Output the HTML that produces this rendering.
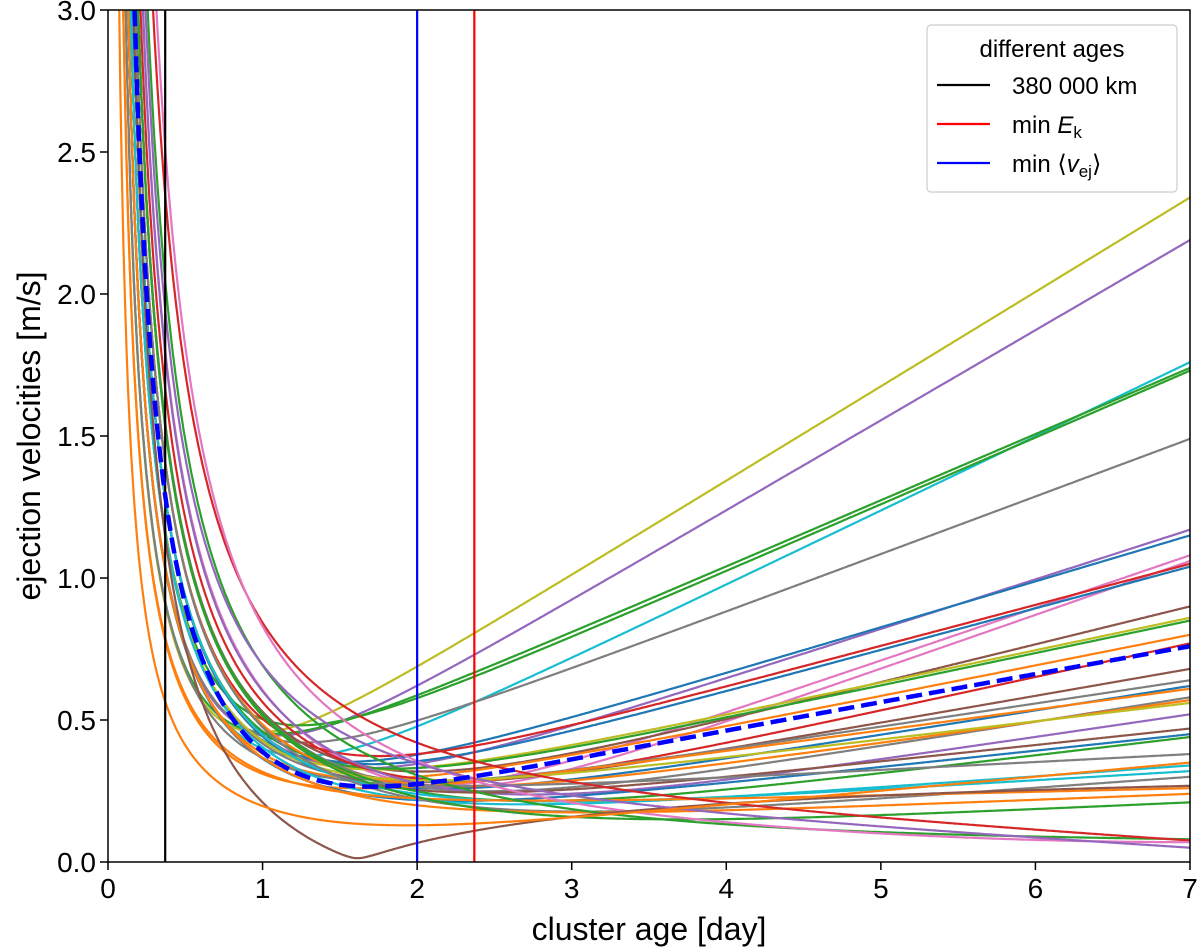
<!DOCTYPE html>
<html><head><meta charset="utf-8"><style>
html,body{margin:0;padding:0;background:#fff;}
svg{display:block;font-family:"Liberation Sans","DejaVu Sans",sans-serif;}
</style></head><body>
<svg id="chart" width="1200" height="950" viewBox="0 0 1200 950">
<defs><clipPath id="plotclip"><rect x="108" y="10" width="1082" height="852"/></clipPath></defs>
<g id="curves" clip-path="url(#plotclip)"></g>
<g id="vlines" clip-path="url(#plotclip)"></g>
<g id="mean" clip-path="url(#plotclip)"></g>
<rect x="108" y="10" width="1082" height="852" fill="none" stroke="#000" stroke-width="1.5"/>
<g id="xticks"></g>
<g id="yticks"></g>
<text x="649" y="940" font-size="32" text-anchor="middle">cluster age [day]</text>
<text transform="translate(40,436) rotate(-90)" font-size="32" text-anchor="middle">ejection velocities [m/s]</text>
<g>
<rect x="927" y="25" width="250" height="167" rx="4" fill="#fff" fill-opacity="0.85" stroke="#ccc" stroke-width="1.2"/>
<text x="1052" y="57" font-size="24" text-anchor="middle">different ages</text>
<line x1="937" y1="85" x2="990" y2="85" stroke="#000" stroke-width="2.2"/>
<text x="1012" y="94" font-size="24">380 000 km</text>
<line x1="937" y1="124" x2="990" y2="124" stroke="#ff0000" stroke-width="2.2"/>
<text x="1012" y="133" font-size="24">min <tspan font-style="italic">E</tspan><tspan font-size="17" dy="5">k</tspan></text>
<line x1="937" y1="163" x2="990" y2="163" stroke="#0000ff" stroke-width="2.2"/>
<text x="1012" y="172" font-size="24">min ⟨<tspan font-style="italic">v</tspan><tspan font-size="17" dy="5">ej</tspan><tspan dy="-5">⟩</tspan></text>
</g>
</svg>
<script>
// data: per-curve parameters
const colorIdx = [8,4,9,2,2,7,4,0,6,6,3,0,5,8,2,1,3,5,7,0,1,7,1,8,4,5,0,2,7,9,9,7,1,1,2,2,3,6,5,4,1];
const nearA   = [.35,.40,.40,.35,.45,.40,.50,.45,.60,.70,.55,.50,.60,.45,.50,.40,.65,.55,.45,.50,.30,.60,.55,.45,.70,.50,.40,.60,.35,.45,.50,.55,.30,.40,.60,.80,.90,1.0,.55,.75,.22];
const nearD   = [.05,.05,.05,.05,.06,.05,.07,.06,.08,.10,.08,.07,.08,.06,.07,.05,.09,.08,.06,.07,.04,.08,.08,.06,.10,.07,.05,.08,.05,.06,.07,.08,.04,.05,.09,.12,.10,.20,.34,.10,.03];
const valAt237 = [.80,.72,.55,.66,.64,.55,.36,.40,.22,.18,.38,.36,.28,.33,.32,.30,.22,.24,.26,.22,.27,.18,.22,.26,.15,.20,.18,.14,.25,.16,.17,.12,.20,.14,.10,.12,.22,.18,.02,.20,.12];
const valAt7   = [2.34,2.19,1.76,1.74,1.73,1.49,1.17,1.15,1.08,1.06,1.05,1.04,.90,.86,.85,.80,.77,.68,.64,.62,.61,.58,.57,.56,.52,.47,.45,.44,.38,.34,.32,.30,.26,.24,.21,.08,.07,.04,.06,.05,.35];
const meanParams = [0.55, 0.20, 0.30, 0.75];
const vlineX = [0.37, 2.0, 2.37];
const vlineNames = ['line-380000km','line-min-vej','line-min-ek'];
const xTicks = [0,1,2,3,4,5,6,7];
const yTicks = ['0.0','0.5','1.0','1.5','2.0','2.5','3.0'];

const palette = ['#1f77b4','#ff7f0e','#2ca02c','#d62728','#9467bd','#8c564b','#e377c2','#7f7f7f','#bcbd22','#17becf'];
const vlineColors = ['#000000','#0000ff','#ff0000'];
const X0=108, X1=1190, Y0=862, Y1=10;
const sx = t => X0 + (X1-X0)*t/7;
const sy = v => Y0 - (Y0-Y1)*v/3;
const NS='http://www.w3.org/2000/svg';
function model(A,d,v2,v7,t){
  const lin = v2 + (v7-v2)*(t-2.37)/4.63;
  const n = A/t - d;
  return Math.sqrt(n*n + lin*lin);
}
function pathFor(A,d,v2,v7){
  let s='';
  for(let i=0;i<=700;i++){
    const t = 0.02 + i*(7.0-0.02)/700;
    let v = model(A,d,v2,v7,t); if(v>3.5) v=3.5;
    s += (i?'L':'M') + sx(t).toFixed(1) + ',' + sy(v).toFixed(1);
  }
  return s;
}
const cg = document.getElementById('curves');
for(let k=0;k<valAt7.length;k++){
  const p=document.createElementNS(NS,'path');
  p.setAttribute('d', pathFor(nearA[k],nearD[k],valAt237[k],valAt7[k]));
  p.setAttribute('fill','none');
  p.setAttribute('stroke', palette[colorIdx[k]]);
  p.setAttribute('stroke-width','2.2');
  
  
  cg.appendChild(p);
}
const vg=document.getElementById('vlines');
vlineX.forEach((x,i)=>{
  const l=document.createElementNS(NS,'line');
  l.setAttribute('x1',sx(x)); l.setAttribute('x2',sx(x));
  l.setAttribute('y1',Y1); l.setAttribute('y2',Y0);
  l.setAttribute('stroke',vlineColors[i]); l.setAttribute('stroke-width','2.2');
  
  
  vg.appendChild(l);
});
const mg=document.getElementById('mean');
const mp=document.createElementNS(NS,'path');
mp.setAttribute('d', pathFor(meanParams[0],meanParams[1],meanParams[2],meanParams[3]));
mp.setAttribute('fill','none'); mp.setAttribute('stroke','#0000ff');
mp.setAttribute('stroke-width','4.5'); mp.setAttribute('stroke-dasharray','16,7');


mg.appendChild(mp);

const xg=document.getElementById('xticks');
xTicks.forEach(t=>{
  const l=document.createElementNS(NS,'line');
  l.setAttribute('x1',sx(t)); l.setAttribute('x2',sx(t));
  l.setAttribute('y1',Y0); l.setAttribute('y2',Y0+8);
  l.setAttribute('stroke','#000'); l.setAttribute('stroke-width','1.5');
  
  
  xg.appendChild(l);
  const tx=document.createElementNS(NS,'text');
  tx.setAttribute('x',sx(t)); tx.setAttribute('y',Y0+36);
  tx.setAttribute('font-size','28'); tx.setAttribute('text-anchor','middle');
  tx.textContent=String(t);
  
  
  xg.appendChild(tx);
});
const yg=document.getElementById('yticks');
yTicks.forEach(lbl=>{
  const v=parseFloat(lbl);
  const l=document.createElementNS(NS,'line');
  l.setAttribute('x1',X0-8); l.setAttribute('x2',X0);
  l.setAttribute('y1',sy(v)); l.setAttribute('y2',sy(v));
  l.setAttribute('stroke','#000'); l.setAttribute('stroke-width','1.5');
  
  
  yg.appendChild(l);
  const tx=document.createElementNS(NS,'text');
  tx.setAttribute('x',X0-12); tx.setAttribute('y',sy(v)+10);
  tx.setAttribute('font-size','28'); tx.setAttribute('text-anchor','end');
  tx.textContent=lbl;
  
  
  yg.appendChild(tx);
});
</script>
</body></html>
